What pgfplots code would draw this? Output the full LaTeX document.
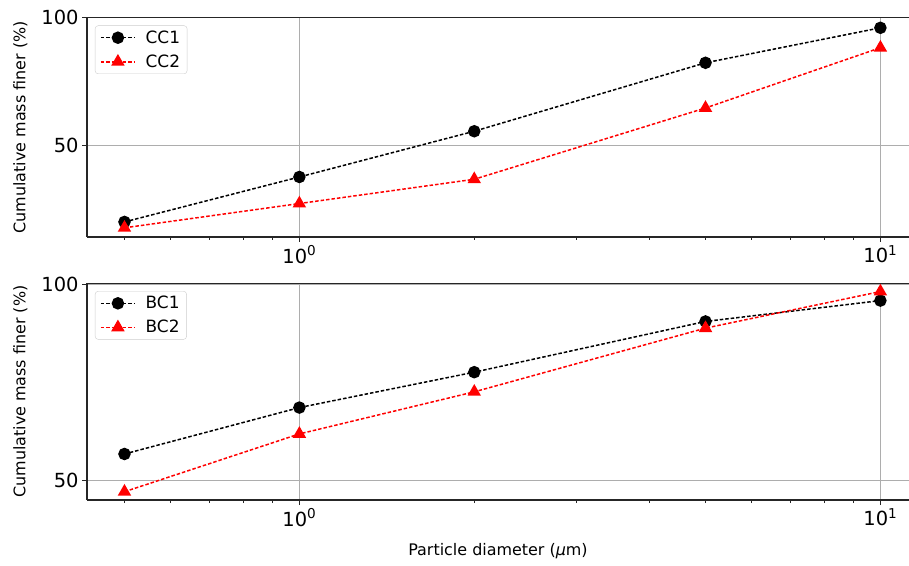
\documentclass[border=0pt]{standalone}
\usepackage{fontspec}
\setmainfont{DejaVu Sans}
\usepackage{pgfplots}
\pgfplotsset{compat=1.18}
\tikzset{
  s1/.style={black, line width=1.5bp, dash pattern=on 3.5bp off 2bp, mark=*, mark size=5.5bp, mark options={solid, fill=black}},
  s2/.style={red, line width=1.5bp, dash pattern=on 3.5bp off 2bp, mark=triangle*, mark size=6.3bp, mark options={solid, fill=red}},
}
\pgfplotsset{
  legend image code/.code={\draw[mark repeat=2,mark phase=2,#1] plot coordinates {(0bp,0bp) (17bp,0bp) (34bp,0bp)};},
}
\begin{document}
\begin{tikzpicture}
\path[use as bounding box] (0bp,0bp) rectangle (909bp,566bp);
\begin{axis}[xmode=log, scale only axis, width=822bp,
    xmin=0.431, xmax=11.2,
    xtick={1,10}, xticklabels={10\textsuperscript{0},10\textsuperscript{1}},
    minor xtick={0.5,0.6,0.7,0.8,0.9,2,3,4,5,6,7,8,9},
    ytick={50,100},
    tick pos=left, tick align=outside,
    major tick length=5bp, minor tick length=3bp,
    tick style={black!85, line width=1bp},
    xmajorgrids, ymajorgrids,
    grid style={color=black!32, line width=1.1bp},
    axis line style={line width=1.2bp, black!85},
    axis y line*=left,
    ticklabel style={font=\fontsize{19.5}{22}\selectfont},
    /pgf/number format/assume math mode=true,
    ylabel={Cumulative mass finer (\%)},
    ylabel style={at={(axis description cs:-0.081,0.5)}, anchor=center, font=\fontsize{16}{18}\selectfont},
    legend cell align=left,
    legend style={at={(0.0097,0.964)}, anchor=north west, draw=black!20, rounded corners=3bp,
      font=\fontsize{17}{20}\selectfont, fill=white,
      row sep=6bp, column sep=8bp, inner xsep=5bp, inner ysep=3bp},
    at={(87bp,329bp)}, anchor=south west, height=219.4bp, ymin=14.1, ymax=100]
\addplot[s1] coordinates {(0.5,20.0) (1,37.6) (2,55.5) (5,82.3) (10,96.0)};
\addlegendentry{CC1}
\addplot[s2] coordinates {(0.5,17.7) (1,27.2) (2,36.7) (5,64.6) (10,88.2)};
\addlegendentry{CC2}
\end{axis}
\begin{axis}[xmode=log, scale only axis, width=822bp,
    xmin=0.431, xmax=11.2,
    xtick={1,10}, xticklabels={10\textsuperscript{0},10\textsuperscript{1}},
    minor xtick={0.5,0.6,0.7,0.8,0.9,2,3,4,5,6,7,8,9},
    ytick={50,100},
    tick pos=left, tick align=outside,
    major tick length=5bp, minor tick length=3bp,
    tick style={black!85, line width=1bp},
    xmajorgrids, ymajorgrids,
    grid style={color=black!32, line width=1.1bp},
    axis line style={line width=1.2bp, black!85},
    axis y line*=left,
    ticklabel style={font=\fontsize{19.5}{22}\selectfont},
    /pgf/number format/assume math mode=true,
    ylabel={Cumulative mass finer (\%)},
    ylabel style={at={(axis description cs:-0.081,0.5)}, anchor=center, font=\fontsize{16}{18}\selectfont},
    legend cell align=left,
    legend style={at={(0.0097,0.964)}, anchor=north west, draw=black!20, rounded corners=3bp,
      font=\fontsize{17}{20}\selectfont, fill=white,
      row sep=6bp, column sep=8bp, inner xsep=5bp, inner ysep=3bp},
    at={(87bp,66bp)}, anchor=south west, height=216.7bp, ymin=45.1, ymax=100.2,
    xlabel={Particle diameter ({\itshape μ}m)},
    xlabel style={at={(axis description cs:0.5,0)}, anchor=center, yshift=-51bp, font=\fontsize{16}{18}\selectfont}]
\addplot[s1] coordinates {(0.5,56.8) (1,68.6) (2,77.6) (5,90.5) (10,95.8)};
\addlegendentry{BC1}
\addplot[s2] coordinates {(0.5,47.2) (1,61.9) (2,72.6) (5,88.8) (10,98.1)};
\addlegendentry{BC2}
\end{axis}
\end{tikzpicture}
\end{document}
